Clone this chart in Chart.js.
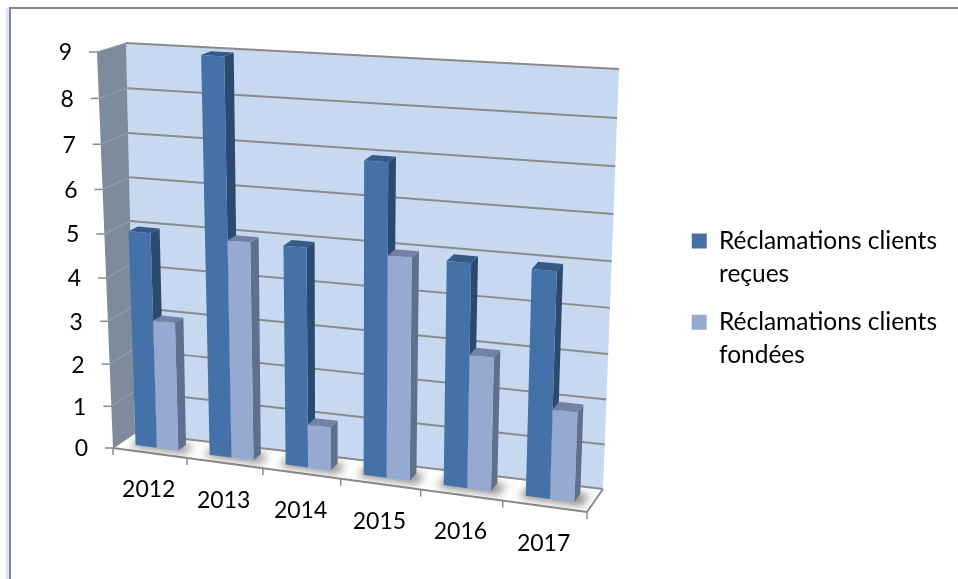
<!DOCTYPE html>
<html>
<head>
<meta charset="utf-8">
<script src="https://cdn.jsdelivr.net/npm/chart.js@4"></script>
<style>
html, body { margin: 0; padding: 0; background: #fff; }
#wrap { width: 958px; height: 579px; position: relative; }
</style>
</head>
<body>
<div id="wrap"><canvas id="mycanvas" width="958" height="579"></canvas></div>
<script>
var years = ['2012', '2013', '2014', '2015', '2016', '2017'];
var recues = [5, 9, 5, 7, 5, 5];
var fondees = [3, 5, 1, 5, 3, 2];
var legendRecues = ['Réclamations clients', 'reçues'];
var legendFondees = ['Réclamations clients', 'fondées'];

var font = 'Lato, Carlito, sans-serif';

// corners of the 3d box on screen, order: bottom left, bottom right, top right, top left
var frontQuad = [[113, 448], [587, 512], [602, 86], [97, 52]];
var backQuad = [[135, 433], [603, 489], [619, 69], [126, 43]];
var barDepth = [0.33, 0.69];

function homography(q) {
	var dx1 = q[1][0] - q[2][0], dx2 = q[3][0] - q[2][0], sx = q[0][0] - q[1][0] + q[2][0] - q[3][0];
	var dy1 = q[1][1] - q[2][1], dy2 = q[3][1] - q[2][1], sy = q[0][1] - q[1][1] + q[2][1] - q[3][1];
	var den = dx1 * dy2 - dx2 * dy1;
	var g = (sx * dy2 - dx2 * sy) / den;
	var h = (dx1 * sy - sx * dy1) / den;
	var a = q[1][0] - q[0][0] + g * q[1][0], b = q[3][0] - q[0][0] + h * q[3][0];
	var d = q[1][1] - q[0][1] + g * q[1][1], e = q[3][1] - q[0][1] + h * q[3][1];
	return function(u, v) {
		var w = g * u + h * v + 1;
		return [(a * u + b * v + q[0][0]) / w, (d * u + e * v + q[0][1]) / w];
	};
}
var frontMap = homography(frontQuad);
var backMap = homography(backQuad);

// scale pixels + depth -> screen point
function project(chart, px, py, depth) {
	var area = chart.chartArea;
	var u = (px - area.left) / area.width;
	var v = (area.bottom - py) / area.height;
	var f = frontMap(u, v), b = backMap(u, v);
	return [f[0] + (b[0] - f[0]) * depth, f[1] + (b[1] - f[1]) * depth];
}

function poly(ctx, pts, color) {
	ctx.beginPath();
	ctx.moveTo(pts[0][0], pts[0][1]);
	for (var i = 1; i < pts.length; i++) ctx.lineTo(pts[i][0], pts[i][1]);
	ctx.closePath();
	ctx.fillStyle = color;
	ctx.fill();
}

function line(ctx, a, b, color, width) {
	ctx.beginPath();
	ctx.moveTo(a[0], a[1]);
	ctx.lineTo(b[0], b[1]);
	ctx.strokeStyle = color;
	ctx.lineWidth = width;
	ctx.stroke();
}

var box3d = {
	id: 'box3d',
	beforeDraw: function(chart) {
		var ctx = chart.ctx;
		ctx.save();
		ctx.fillStyle = '#dce8f4';
		ctx.fillRect(6, 8, 3, chart.height - 8);
		ctx.fillStyle = '#868686';
		ctx.fillRect(9, 7, chart.width - 9, 2);
		ctx.fillRect(9, 7, 2, chart.height - 7);
		ctx.restore();
	},
	beforeDatasetsDraw: function(chart) {
		var ctx = chart.ctx, a = chart.chartArea;
		var x = chart.scales.x, y = chart.scales.y;
		var grid = '#8a8a8a';
		ctx.save();

		// walls
		poly(ctx, [project(chart, a.left, a.bottom, 1), project(chart, a.right, a.bottom, 1), project(chart, a.right, a.top, 1), project(chart, a.left, a.top, 1)], '#c6d9f1');
		poly(ctx, [project(chart, a.left, a.bottom, 0), project(chart, a.left, a.bottom, 1), project(chart, a.left, a.top, 1), project(chart, a.left, a.top, 0)], '#7d8c9c');

		// y grid and labels
		ctx.font = '23px ' + font;
		ctx.textAlign = 'right';
		ctx.textBaseline = 'middle';
		y.ticks.forEach(function(t) {
			var py = y.getPixelForValue(t.value);
			var f = project(chart, a.left, py, 0);
			var bl = project(chart, a.left, py, 1);
			var br = project(chart, a.right, py, 1);
			line(ctx, f, bl, t.value == 0 ? grid : '#93a0ab', 1.2);
			line(ctx, bl, br, grid, 2);
			line(ctx, [f[0] - 8, f[1]], f, grid, 1.5);
			ctx.fillStyle = '#000';
			ctx.fillText(t.label, f[0] - 25, f[1] + 1);
		});

		// floor edges
		var fl = project(chart, a.left, a.bottom, 0), fr = project(chart, a.right, a.bottom, 0);
		line(ctx, fl, fr, grid, 2.2);
		line(ctx, fr, project(chart, a.right, a.bottom, 1), grid, 2);

		// x ticks and labels
		ctx.textAlign = 'center';
		var step = a.width / years.length;
		for (var i = 0; i <= years.length; i++) {
			var p = project(chart, a.left + step * i, a.bottom, 0);
			line(ctx, p, [p[0], p[1] + 7], grid, 1.5);
		}
		x.ticks.forEach(function(t, i) {
			var p = project(chart, x.getPixelForTick(i), a.bottom, 0);
			ctx.fillStyle = '#000';
			ctx.fillText(x.getLabelForValue(t.value), p[0] - 1, p[1] + 37);
		});

		// soft shadow on the floor
		var styles = [
			{ front: '#4472a8', side: '#2c4a6f', top: '#355a8a' },
			{ front: '#95a9d1', side: '#5f6f8d', top: '#7082a6' }
		];
		ctx.save();
		ctx.beginPath();
		var floor = [fl, fr, project(chart, a.right, a.bottom, 1), project(chart, a.left, a.bottom, 1)];
		ctx.moveTo(floor[0][0], floor[0][1]);
		for (var k = 1; k < 4; k++) ctx.lineTo(floor[k][0], floor[k][1]);
		ctx.closePath();
		ctx.clip();
		ctx.filter = 'blur(4px)';
		years.forEach(function(c, j) {
			var l = chart.getDatasetMeta(0).data[j], r = chart.getDatasetMeta(1).data[j];
			var x0 = l.x - l.width / 2 - 6, x1 = r.x + r.width / 2 + 12;
			poly(ctx, [project(chart, x0, a.bottom, barDepth[0] - 0.1), project(chart, x1, a.bottom, barDepth[0] - 0.1), project(chart, x1, a.bottom, barDepth[1]), project(chart, x0, a.bottom, barDepth[1])], 'rgba(50,50,50,0.6)');
		});
		ctx.restore();

		// bars, left to right, back series first
		years.forEach(function(c, j) {
			[0, 1].forEach(function(d) {
				var bar = chart.getDatasetMeta(d).data[j];
				var s = styles[d];
				var x0 = bar.x - bar.width / 2, x1 = bar.x + bar.width / 2;
				var d0 = barDepth[0], d1 = barDepth[1];
				poly(ctx, [project(chart, x1, bar.base, d0), project(chart, x1, bar.base, d1), project(chart, x1, bar.y, d1), project(chart, x1, bar.y, d0)], s.side);
				poly(ctx, [project(chart, x0, bar.y, d0), project(chart, x1, bar.y, d0), project(chart, x1, bar.y, d1), project(chart, x0, bar.y, d1)], s.top);
				poly(ctx, [project(chart, x0, bar.base, d0), project(chart, x1, bar.base, d0), project(chart, x1, bar.y, d0), project(chart, x0, bar.y, d0)], s.front);
			});
		});
		ctx.restore();
		return false;
	}
};

var ctx = document.getElementById('mycanvas');
var barGraph = new Chart(ctx, {
	type: 'bar',
	data: {
		labels: years,
		datasets: [
			{ label: legendRecues, data: recues, backgroundColor: '#4472a8', barPercentage: 1, categoryPercentage: 0.58 },
			{ label: legendFondees, data: fondees, backgroundColor: '#95a9d1', barPercentage: 1, categoryPercentage: 0.58 }
		]
	},
	options: {
		responsive: false,
		animation: false,
		layout: { padding: { top: 26, bottom: 0, right: 11, left: 0 } },
		scales: {
			x: { display: false },
			y: { display: false, min: 0, max: 9, ticks: { stepSize: 1 } }
		},
		plugins: {
			tooltip: { enabled: false },
			title: { display: false },
			legend: {
				position: 'right',
				labels: {
					color: '#000',
					boxWidth: 15,
					boxHeight: 15,
					padding: 15,
					font: { family: font, size: 24.5, lineHeight: 1.35 }
				}
			}
		}
	},
	plugins: [box3d]
});
</script>
</body>
</html>
